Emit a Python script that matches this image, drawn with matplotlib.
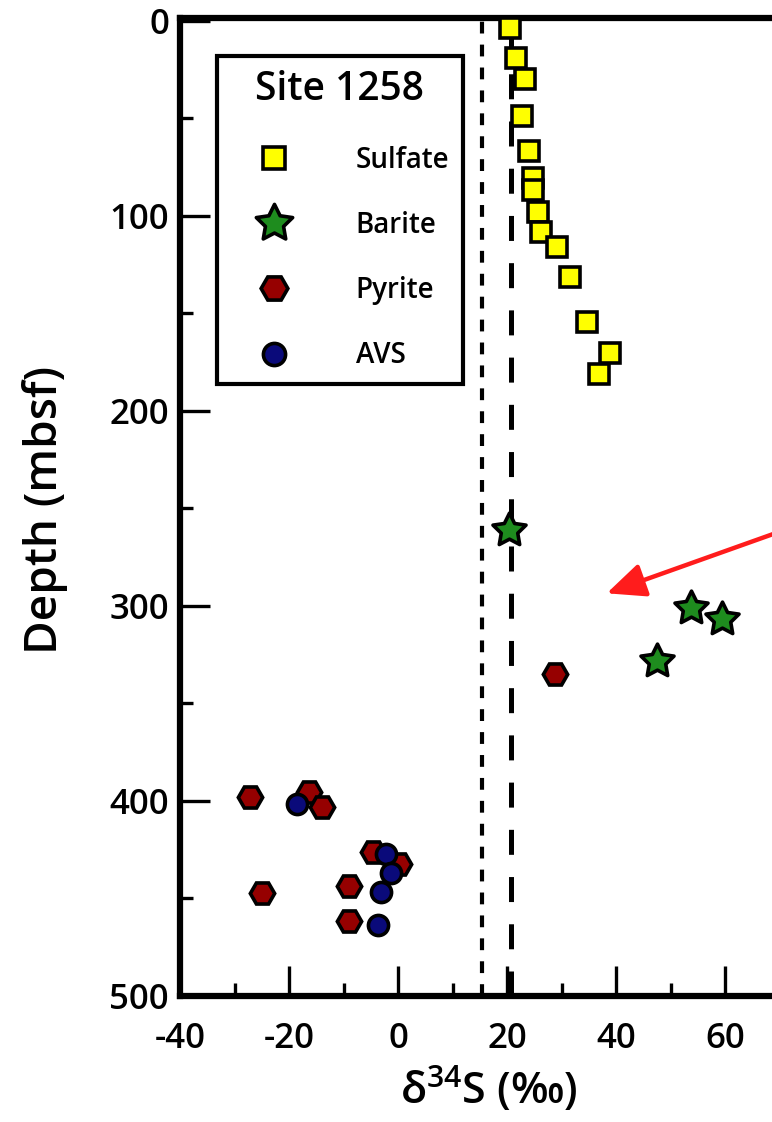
import matplotlib
matplotlib.use("Agg")
import matplotlib.pyplot as plt
from matplotlib.path import Path
from matplotlib.ticker import MultipleLocator, FixedLocator

plt.rcParams["font.family"] = ["Open Sans", "DejaVu Sans"]
plt.rcParams["font.weight"] = "semibold"
plt.rcParams["mathtext.fontset"] = "custom"
plt.rcParams["mathtext.rm"] = "Open Sans:semibold"
plt.rcParams["axes.unicode_minus"] = False
plt.rcParams["lines.scale_dashes"] = False

# d34S (permil) vs depth (mbsf), Site 1258
SULFATE_D34S = [20.6, 21.7, 23.3, 22.8, 24.0, 24.7, 24.7, 25.7, 26.2, 29.1, 31.6, 34.6, 38.9, 36.8]
SULFATE_DEPTH = [3.6, 19.0, 29.7, 48.7, 66.6, 80.4, 86.6, 97.8, 108.1, 115.8, 131.1, 154.2, 170.1, 180.8]
BARITE_D34S = [20.3, 53.7, 59.4, 47.5]
BARITE_DEPTH = [260.8, 300.9, 306.9, 328.2]
PYRITE_D34S = [-27.1, -16.3, -13.9, -4.6, 0.2, -8.9, -25.0, -8.9, 28.8]
PYRITE_DEPTH = [398.2, 395.3, 403.3, 426.4, 432.4, 443.5, 447.2, 461.4, 335.0]
AVS_D34S = [-18.5, -2.2, -1.3, -3.1, -3.7]
AVS_DEPTH = [401.6, 427.2, 437.0, 446.6, 463.6]
X_TICKS = [-40, -20, 0, 20, 40, 60]
REF_DOTTED = 15.4
REF_DASHED = 20.7
ARROW_TIP = (38.3, 293.5)
ARROW_TAIL = (81.0, 251.0)

W, H = 772, 1122
fig = plt.figure(figsize=(W / 100, H / 100), dpi=100)
# right edge of the axes runs past the figure edge
ax = fig.add_axes([180 / W, 1 - 996 / H, 654 / W, 978 / H])
ax.set_xlim(-40, 80)
ax.set_ylim(500, -1.5)

ax.axvline(REF_DOTTED, color="black", lw=3, dashes=(8.5, 8), zorder=1)
ax.axvline(REF_DASHED, color="black", lw=3.6, dashes=(18, 16), zorder=1)

star = Path.unit_regular_star(5, 0.5)
mk = dict(ls="none", mec="black", mew=2.6, zorder=3)
ax.plot(SULFATE_D34S, SULFATE_DEPTH, marker="s", ms=13.8, mfc="#ffff00", label="Sulfate", **mk)
ax.plot(BARITE_D34S, BARITE_DEPTH, marker=star, ms=25, mfc="#1e8c1e", label="Barite", **mk)
ax.plot(PYRITE_D34S, PYRITE_DEPTH, marker="H", ms=17.5, mfc="#960000", label="Pyrite", **mk)
ax.plot(AVS_D34S, AVS_DEPTH, marker="o", ms=14.5, mfc="#0a0a7a", label="AVS", **mk)

ax.annotate("", xy=ARROW_TIP, xytext=ARROW_TAIL,
            arrowprops=dict(arrowstyle="-|>,head_length=0.9,head_width=0.4",
                            color="#ff1c1c", lw=3.2, mutation_scale=26, shrinkA=0, shrinkB=0),
            annotation_clip=False, zorder=4)

ax.xaxis.set_major_locator(FixedLocator(X_TICKS))
ax.xaxis.set_minor_locator(MultipleLocator(10))
ax.yaxis.set_major_locator(MultipleLocator(100))
ax.yaxis.set_minor_locator(MultipleLocator(50))
ax.tick_params(axis="both", which="major", direction="in", length=21.5, width=2.4,
               labelsize=25, top=False, right=False)
ax.tick_params(axis="both", which="minor", direction="in", length=9.5, width=2.4,
               top=False, right=False)
ax.tick_params(axis="x", which="major", pad=19)
ax.tick_params(axis="y", which="major", pad=8)
for s in ax.spines.values():
    s.set_linewidth(4.5)

leg = ax.legend(title="Site 1258", loc="upper left",
                bbox_to_anchor=(216.7 / W, 1 - 56 / H), bbox_transform=fig.transFigure,
                borderaxespad=0, borderpad=0.5, handlelength=3.1, handletextpad=1.4,
                labelspacing=1.3, fontsize=20, title_fontsize=28, markerscale=1.1,
                fancybox=False, framealpha=1, edgecolor="black")
leg.get_frame().set_linewidth(3)

fig.text(489 / W, 1 - 1090 / H, r"$\mathregular{\delta^{34}}$S (‰)", fontsize=31,
         ha="center", va="center")
fig.text(45 / W, 1 - 510 / H, "Depth (mbsf)", fontsize=33, rotation=90,
         ha="center", va="center")

fig.savefig("out.png", dpi=100)
